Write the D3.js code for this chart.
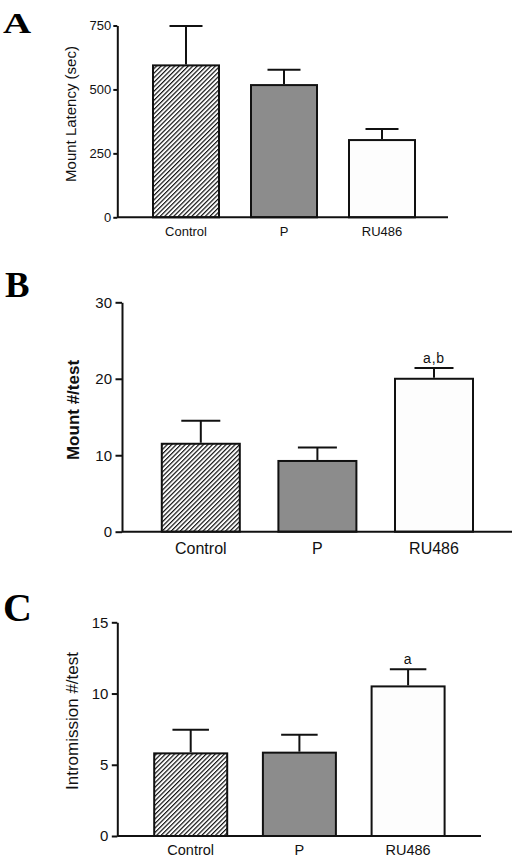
<!DOCTYPE html>
<html><head><meta charset="utf-8">
<script src="https://cdn.jsdelivr.net/npm/d3@7"></script>
<style>body{margin:0;background:#fff} svg{display:block}</style>
</head><body><svg id="c" width="520" height="859"></svg>
<script>
// ---- data ----
const categories = ["Control", "P", "RU486"];
const latencyMean = [594, 517, 302];
const latencyErr = [154, 60, 43];
const mountMean = [11.5, 9.25, 20.0];
const mountErr = [3.0, 1.75, 1.4];
const intromMean = [5.8, 5.85, 10.5];
const intromErr = [1.65, 1.25, 1.2];
const latencySig = ["", "", ""];
const mountSig = ["", "", "a,b"];
const intromSig = ["", "", "a"];
const latencyTicks = [0, 250, 500, 750];
const mountTicks = [0, 10, 20, 30];
const intromTicks = [0, 5, 10, 15];
const panelLetters = ["A", "B", "C"];
const yTitles = ["Mount Latency (sec)", "Mount #/test", "Intromission #/test"];

// ---- layout / style ----
const fills = ["url(#hatch)", "#8c8c8c", "#fdfdfd"];
const panels = [
  {mean: latencyMean, err: latencyErr, sig: latencySig, ticks: latencyTicks, max: 750,
   axisX: 117.3, xEnd: 448, y0: 217.3, yTop: 25.5, c0: 186, step: 98, bw: 66,
   tickSize: 4, tickPad: 2, tickFont: 13, catFont: 13, catPad: 9.5,
   tx: 76, ty: 114, tFont: 15, tWeight: "normal",
   lx: 3, ly: 33.3, lFont: 30, lsx: 1.3},
  {mean: mountMean, err: mountErr, sig: mountSig, ticks: mountTicks, max: 30,
   axisX: 122, xEnd: 512, y0: 531.7, yTop: 302.3, c0: 200.8, step: 116.6, bw: 78,
   tickSize: 6.5, tickPad: 3.5, tickFont: 15, catFont: 16, catPad: 10.5,
   tx: 79, ty: 410, tFont: 17, tWeight: "bold",
   lx: 5, ly: 296.7, lFont: 35, lsx: 1.05},
  {mean: intromMean, err: intromErr, sig: intromSig, ticks: intromTicks, max: 15,
   axisX: 117.3, xEnd: 481, y0: 836, yTop: 622.3, c0: 190.7, step: 108.7, bw: 73,
   tickSize: 5.5, tickPad: 3.4, tickFont: 15, catFont: 14.5, catPad: 9,
   tx: 78, ty: 721, tFont: 17, tWeight: "normal",
   lx: 3, ly: 621, lFont: 40, lsx: 1.0}
];

const svg = d3.select("#c");
const defs = svg.append("defs");
const pat = defs.append("pattern").attr("id", "hatch")
  .attr("patternUnits", "userSpaceOnUse").attr("width", 3.2).attr("height", 3.2)
  .attr("patternTransform", "rotate(45)");
pat.append("rect").attr("width", 3.2).attr("height", 3.2).attr("fill", "#fff");
pat.append("line").attr("x1", 0.6).attr("y1", 0).attr("x2", 0.6).attr("y2", 3.2)
  .attr("stroke", "#111").attr("stroke-width", 1.2);

const SANS = "'Liberation Sans', Arial, Helvetica, sans-serif";

panels.forEach((p, i) => {
  const g = svg.append("g");
  const y = d3.scaleLinear().domain([0, p.max]).range([p.y0, p.yTop]);
  const pi = 1 - p.bw / p.step;
  const x = d3.scaleBand().domain(categories)
    .range([p.c0 - p.step / 2, p.c0 + p.step * (categories.length - 0.5)])
    .paddingInner(pi).paddingOuter(pi / 2);

  // bars
  g.selectAll("rect.bar").data(categories).join("rect").attr("class", "bar")
    .attr("x", d => x(d)).attr("width", x.bandwidth())
    .attr("y", (d, j) => y(p.mean[j])).attr("height", (d, j) => y(0) - y(p.mean[j]))
    .attr("fill", (d, j) => fills[j]).attr("stroke", "#111").attr("stroke-width", 2);

  // error bars (upper only)
  categories.forEach((c, j) => {
    const cx = x(c) + x.bandwidth() / 2;
    const top = y(p.mean[j] + p.err[j]);
    g.append("line").attr("x1", cx).attr("x2", cx).attr("y1", y(p.mean[j]) - 1).attr("y2", top)
      .attr("stroke", "#111").attr("stroke-width", 2);
    g.append("line").attr("x1", cx - x.bandwidth() / 4).attr("x2", cx + x.bandwidth() / 4)
      .attr("y1", top).attr("y2", top).attr("stroke", "#111").attr("stroke-width", 2);
    if (p.sig[j]) {
      g.append("text").attr("x", cx).attr("y", top - 5).attr("text-anchor", "middle")
        .attr("font-family", SANS).attr("font-size", 14).attr("letter-spacing", 0.8)
        .attr("fill", "#111").text(p.sig[j]);
    }
  });

  // y axis
  const ya = g.append("g").attr("transform", `translate(${p.axisX},0)`)
    .call(d3.axisLeft(y).tickValues(p.ticks).tickSize(p.tickSize).tickSizeOuter(0).tickPadding(p.tickPad));
  ya.select(".domain").attr("stroke", "#111").attr("stroke-width", 2);
  ya.selectAll(".tick line").attr("stroke", "#111").attr("stroke-width", 2);
  ya.selectAll(".tick text").attr("font-family", SANS).attr("font-size", p.tickFont).attr("fill", "#111");

  // x axis
  const xa = g.append("g").attr("transform", `translate(0,${p.y0})`)
    .call(d3.axisBottom(x).tickSize(0).tickPadding(p.catPad));
  xa.select(".domain").remove();
  xa.selectAll(".tick text").attr("font-family", SANS).attr("font-size", p.catFont).attr("fill", "#111");
  g.append("line").attr("x1", p.axisX).attr("x2", p.xEnd).attr("y1", p.y0).attr("y2", p.y0)
    .attr("stroke", "#111").attr("stroke-width", 2);

  // y title
  g.append("text").attr("transform", `translate(${p.tx},${p.ty}) rotate(-90)`)
    .attr("text-anchor", "middle").attr("font-family", SANS).attr("font-size", p.tFont)
    .attr("font-weight", p.tWeight).attr("fill", "#111").text(yTitles[i]);

  // panel letter
  g.append("text").attr("transform", `translate(${p.lx},${p.ly}) scale(${p.lsx},1)`)
    .attr("font-family", "'Liberation Serif', 'Times New Roman', serif").attr("font-weight", "bold")
    .attr("font-size", p.lFont).attr("fill", "#000").text(panelLetters[i]);
});
</script>
</body></html>
